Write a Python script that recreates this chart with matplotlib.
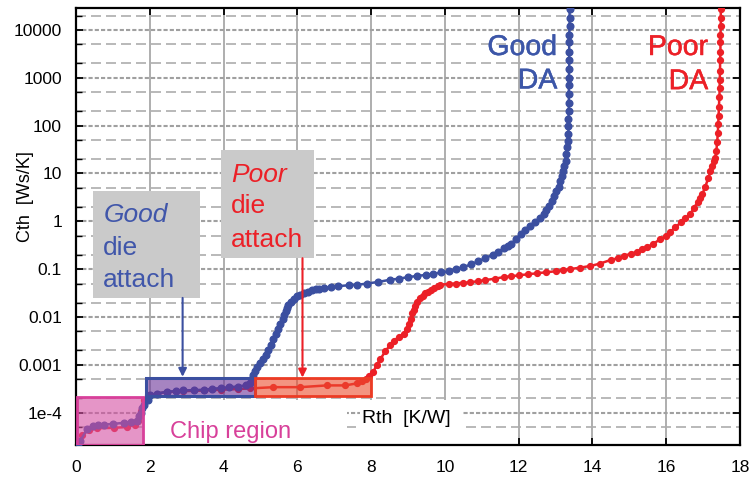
import matplotlib
matplotlib.use("Agg")
import matplotlib.pyplot as plt
import matplotlib.patheffects as pe
from matplotlib.patches import Rectangle
from matplotlib.ticker import FixedLocator, FixedFormatter, NullFormatter

# Structure function, good die attach (Rth [K/W], Cth [Ws/K])
blue_rth = [0.05, 0.12, 0.30, 0.45, 0.60, 0.75, 1.00, 1.29, 1.50, 1.66, 1.72, 1.75,
            1.80, 1.85, 1.96, 2.00, 2.20, 2.48, 2.70, 2.91, 3.20, 3.46, 3.70, 3.92,
            4.15, 4.38, 4.60, 4.73, 4.78, 4.81, 4.86, 4.92, 5.00, 5.08, 5.14, 5.20,
            5.28, 5.35, 5.41, 5.47, 5.53, 5.60, 5.64, 5.68, 5.72, 5.76, 5.83, 5.90,
            5.99, 6.08, 6.18, 6.30, 6.40, 6.50, 6.60, 6.71, 6.90, 7.10, 7.40, 7.63,
            7.90, 8.20, 8.52, 8.75, 9.00, 9.25, 9.50, 9.69, 9.90, 10.10, 10.30, 10.50,
            10.70, 10.90, 11.10, 11.30, 11.45, 11.59, 11.70, 11.80, 11.93, 12.05, 12.18,
            12.30, 12.45, 12.59, 12.68, 12.75, 12.83, 12.91, 12.97, 13.02, 13.08, 13.13,
            13.17, 13.20, 13.24, 13.27, 13.29, 13.31, 13.33, 13.35, 13.35, 13.35, 13.36,
            13.36, 13.36, 13.36, 13.36, 13.37, 13.37, 13.37, 13.37, 13.37, 13.38, 13.38,
            13.38]
blue_cth = [2.2e-5, 2.6e-5, 4.5e-5, 5.3e-5, 5.5e-5, 5.6e-5, 5.8e-5, 6.1e-5, 6.4e-5,
            6.8e-5, 8.5e-5, 1.0e-4, 1.25e-4, 1.45e-4, 1.8e-4, 2.3e-4, 2.5e-4, 2.75e-4,
            2.8e-4, 2.9e-4, 2.95e-4, 3.0e-4, 3.15e-4, 3.25e-4, 3.4e-4, 3.5e-4, 3.7e-4,
            4.2e-4, 5.0e-4, 6.0e-4, 7.5e-4, 9.0e-4, 1.1e-3, 1.3e-3, 1.6e-3, 2.0e-3,
            2.6e-3, 3.4e-3, 4.3e-3, 5.5e-3, 7.0e-3, 9.1e-3, 0.011, 0.013, 0.0155, 0.018,
            0.021, 0.024, 0.027, 0.029, 0.031, 0.034, 0.036, 0.038, 0.039, 0.040, 0.042,
            0.044, 0.046, 0.047, 0.050, 0.054, 0.060, 0.063, 0.068, 0.072, 0.076, 0.080,
            0.085, 0.090, 0.10, 0.11, 0.125, 0.145, 0.17, 0.20, 0.23, 0.27, 0.30, 0.34,
            0.42, 0.53, 0.65, 0.80, 0.97, 1.16, 1.4, 1.7, 2.1, 2.64, 3.3, 4.2, 5.3, 6.95,
            9, 11, 14, 18.3, 25, 35, 48, 68, 100, 140, 200, 300, 450, 700, 1000, 1500,
            2300, 3500, 5500, 8000, 12000, 18000, 28000]

# Structure function, poor die attach
red_rth = [0.05, 0.17, 0.35, 0.58, 1.02, 1.39, 1.60, 1.69, 1.75, 1.83, 1.96, 2.20,
           2.48, 2.91, 3.46, 3.92, 4.38, 4.73, 5.35, 6.08, 6.80, 7.30, 7.63, 7.75,
           7.85, 7.95, 8.06, 8.15, 8.25, 8.38, 8.52, 8.62, 8.75, 8.88, 8.96, 9.02,
           9.07, 9.12, 9.16, 9.20, 9.25, 9.32, 9.40, 9.47, 9.53, 9.62, 9.70, 9.80,
           9.88, 10.10, 10.30, 10.50, 10.69, 10.90, 11.10, 11.35, 11.59, 11.80, 12.00,
           12.25, 12.51, 12.75, 13.00, 13.20, 13.40, 13.65, 13.94, 14.20, 14.49, 14.70,
           14.85, 15.05, 15.21, 15.35, 15.49, 15.65, 15.84, 16.00, 16.11, 16.25, 16.40,
           16.52, 16.65, 16.75, 16.85, 16.92, 16.98, 17.06, 17.14, 17.20, 17.25, 17.30,
           17.33, 17.36, 17.38, 17.40, 17.41, 17.42, 17.43, 17.44, 17.45, 17.45, 17.46,
           17.46, 17.47, 17.47, 17.47, 17.48, 17.48, 17.48]
red_cth = [2.0e-5, 3.4e-5, 4.3e-5, 4.7e-5, 4.8e-5, 5.0e-5, 5.6e-5, 6.8e-5, 1.1e-4,
           1.8e-4, 2.3e-4, 2.5e-4, 2.7e-4, 2.8e-4, 2.9e-4, 3.0e-4, 3.1e-4, 3.2e-4,
           3.4e-4, 3.4e-4, 3.7e-4, 3.7e-4, 4.1e-4, 4.5e-4, 5.0e-4, 5.8e-4, 7.0e-4,
           1.0e-3, 1.3e-3, 1.9e-3, 2.6e-3, 3.2e-3, 3.8e-3, 4.4e-3, 5.5e-3, 7.0e-3,
           9.1e-3, 0.012, 0.014, 0.017, 0.0207, 0.025, 0.028, 0.031, 0.0336, 0.037,
           0.040, 0.044, 0.047, 0.049, 0.050, 0.052, 0.053, 0.056, 0.059, 0.063, 0.068,
           0.071, 0.074, 0.078, 0.082, 0.086, 0.090, 0.095, 0.10, 0.107, 0.116, 0.13,
           0.155, 0.17, 0.19, 0.21, 0.23, 0.26, 0.29, 0.34, 0.42, 0.50, 0.60, 0.75,
           0.95, 1.15, 1.4, 1.9, 2.5, 3.0, 3.7, 5.3, 8.0, 11, 14, 18, 21, 30, 45, 70,
           110, 160, 250, 400, 600, 900, 1400, 2300, 3500, 5500, 8000, 12000, 18000,
           28000]

x_ticks = [0, 2, 4, 6, 8, 10, 12, 14, 16, 18]
y_ticks = [1e4, 1e3, 1e2, 1e1, 1, 1e-1, 1e-2, 1e-3, 1e-4]
y_tick_labels = ["10000", "1000", "100", "10", "1", "0.1", "0.01", "0.001", "1e-4"]

blue = "#3b4fa0"
red = "#ec2027"
pink = "#d8409a"

plt.rcParams["font.family"] = ["Liberation Sans", "DejaVu Sans"]

fig = plt.figure(figsize=(7.52, 4.79), dpi=100)
ax = fig.add_axes([76 / 752, 1 - 445 / 479, 664 / 752, 437 / 479])
ax.set_yscale("log")
ax.set_xlim(0, 18)
ax.set_ylim(2.1e-5, 2.88e4)

# ticks
ax.set_xticks(x_ticks)
ax.yaxis.set_major_locator(FixedLocator(y_ticks))
ax.yaxis.set_major_formatter(FixedFormatter(y_tick_labels))
minor = [m * 10.0 ** e for e in range(-5, 5) for m in (2, 5)]
ax.yaxis.set_minor_locator(FixedLocator(minor))
ax.yaxis.set_minor_formatter(NullFormatter())
ax.tick_params(which="major", direction="in", length=5, width=1.3, top=True, right=True,
               labelsize=12.5)
ax.tick_params(axis="y", which="major", pad=10)
ax.tick_params(axis="x", which="major", pad=11)
ax.tick_params(which="minor", direction="in", length=4, width=1.0, right=False)
for s in ax.spines.values():
    s.set_linewidth(1.6)

# grid
ax.grid(axis="x", which="major", color="#a8a8a8", lw=1.3, ls="-")
ax.grid(axis="y", which="major", color="#a0a0a0", lw=1.5, ls=(0, (2, 1)))
ax.grid(axis="y", which="minor", color="#adadad", lw=1.2, ls=(0, (6, 3)))

# white areas behind the bottom labels
ax.add_patch(Rectangle((1.81, 2.1e-5), 5.53, 1.85e-4 - 2.1e-5, fc="white", ec="none", zorder=2))
ax.add_patch(Rectangle((7.70, 2.1e-5), 2.76, 1.85e-4 - 2.1e-5, fc="white", ec="none", zorder=2))

# curves
ax.plot(red_rth, red_cth, "-o", color=red, lw=1.8, ms=4.2, zorder=4)
ax.plot(blue_rth, blue_cth, "-o", color=blue, lw=1.8, ms=4.8, zorder=4)

# region boxes
ax.add_patch(Rectangle((0.03, 2.1e-5), 1.78, 2.16e-4 - 2.1e-5,
                       fc=(0.83, 0.31, 0.64, 0.6), ec=pink, lw=2, zorder=5))
ax.add_patch(Rectangle((1.89, 2.27e-4), 2.96, 5.4e-4 - 2.27e-4,
                       fc=(0.42, 0.2, 0.6, 0.6), ec=blue, lw=2.2, zorder=5))
ax.add_patch(Rectangle((4.85, 2.27e-4), 3.14, 5.3e-4 - 2.27e-4,
                       fc=(0.92, 0.3, 0.18, 0.6), ec="#ec3b24", lw=2, zorder=5))

# grey label boxes
ax.add_patch(Rectangle((0.46, 0.025), 2.90, 4.37 - 0.025, fc="#cacaca", ec="none", zorder=3))
ax.add_patch(Rectangle((3.93, 0.169), 2.52, 31 - 0.169, fc="#cacaca", ec="none", zorder=3))

box_blue = "#4056aa"
ax.text(0.76, 0.98, "Good", color=box_blue, fontsize=19, style="italic", va="baseline", zorder=6)
ax.text(0.72, 0.198, "die", color=box_blue, fontsize=19, va="baseline", zorder=6)
ax.text(0.72, 0.043, "attach", color=box_blue, fontsize=19, va="baseline", zorder=6)
ax.text(4.22, 6.75, "Poor", color=red, fontsize=19, style="italic", va="baseline", zorder=6)
ax.text(4.20, 1.47, "die", color=red, fontsize=19, va="baseline", zorder=6)
ax.text(4.20, 0.295, "attach", color=red, fontsize=19, va="baseline", zorder=6)

# arrows
ax.annotate("", xy=(2.89, 5.6e-4), xytext=(2.89, 0.025),
            arrowprops=dict(arrowstyle="-|>", color=blue, lw=1.5, mutation_scale=12,
                            shrinkA=0, shrinkB=0), zorder=6)
ax.annotate("", xy=(6.14, 5.4e-4), xytext=(6.14, 0.169),
            arrowprops=dict(arrowstyle="-|>", color=red, lw=1.5, mutation_scale=12,
                            shrinkA=0, shrinkB=0), zorder=6)

# curve labels, a touch heavier than regular
def thick(c):
    return [pe.withStroke(linewidth=0.35, foreground=c)]

good_c = "#3c56a8"
ax.text(13.05, 3000, "Good", color=good_c, fontsize=20.5, ha="right", va="baseline",
        zorder=6, path_effects=thick(good_c))
ax.text(13.05, 600, "DA", color=good_c, fontsize=20.5, ha="right", va="baseline",
        zorder=6, path_effects=thick(good_c))
ax.text(17.14, 3000, "Poor", color=red, fontsize=20.5, ha="right", va="baseline",
        zorder=6, path_effects=thick(red))
ax.text(17.14, 580, "DA", color=red, fontsize=20.5, ha="right", va="baseline",
        zorder=6, path_effects=thick(red))

ax.text(2.55, 2.96e-5, "Chip region", color=pink, fontsize=17, va="baseline", zorder=6)
ax.text(7.74, 6.1e-5, "Rth  [K/W]", color="black", fontsize=14, va="baseline", zorder=6)
fig.text(0.034, 1 - 197 / 479, "Cth  [Ws/K]", rotation=90, fontsize=13,
         ha="center", va="center")

fig.savefig("out.png", dpi=100)
